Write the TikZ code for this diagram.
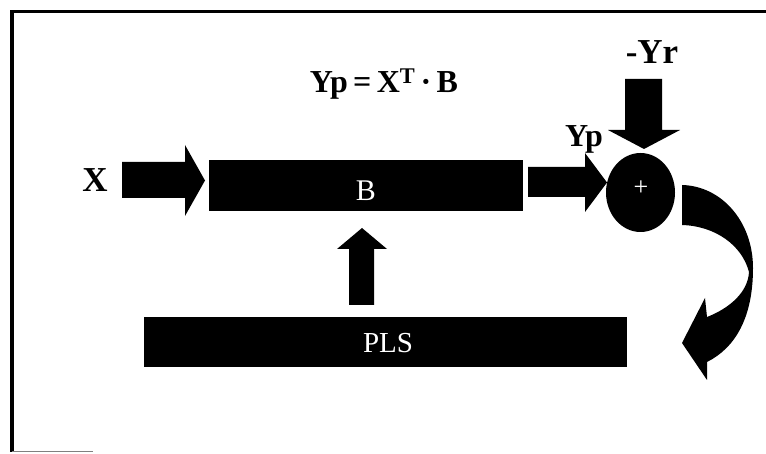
\documentclass[tikz,border=0pt]{standalone}
\usepackage{fontspec}
\setmainfont{Liberation Serif}
\usetikzlibrary{shapes.geometric}
\tikzset{
  blk/.style={fill=black, draw=none},
  bigbox/.style={fill=black, draw=none, inner sep=0pt, rectangle},
  boxtext/.style={text=white, inner sep=0pt, font=\fontsize{29}{29}\selectfont},
  lbl/.style={inner sep=0pt, font=\bfseries\fontsize{35}{35}\selectfont},
  lblsmall/.style={inner sep=0pt, font=\bfseries\fontsize{32}{32}\selectfont},
}
\begin{document}
\begin{tikzpicture}[x=1pt, y=-1pt]
\useasboundingbox (0,0) rectangle (766,454);
% frame
\draw[line width=3.5pt] (12,452) -- (12,11.5) -- (766,11.5);
\draw[gray, line width=1.5pt] (12,451.5) -- (93,451.5);

% formula
\node[lblsmall, anchor=base] (formula) at (384,93) {Yp\,=\,X\textsuperscript{T}\,·\,B};

% input label
\node[lbl, anchor=base] (xin) at (95,192) {X};
% X arrow
\fill[blk] (122,162) -- (185,162) -- (185,145) -- (205,180.5) -- (185,216) -- (185,198) -- (122,198) -- cycle;

% B box
\node[bigbox, minimum width=314pt, minimum height=51pt] (B) at (366,185.5) {};
\node[boxtext, anchor=base, font=\fontsize{30}{30}\selectfont] (Btext) at (366,200.5) {B};

% PLS box
\node[bigbox, minimum width=483pt, minimum height=50pt] (PLS) at (385.5,342) {};
\node[boxtext, anchor=base] (PLStext) at (388,352.5) {PLS};

% up arrow PLS -> B
\fill[blk] (349,305) -- (349,249) -- (337,249) -- (362,228) -- (387,249) -- (374,249) -- (374,305) -- cycle;

% Yp arrow
\fill[blk] (528,167) -- (585,167) -- (585,153) -- (607,182.5) -- (585,212) -- (585,197) -- (528,197) -- cycle;
\node[lblsmall, anchor=base] (yp) at (584,147) {Yp};

% summing junction
\node[ellipse, fill=black, minimum width=69pt, minimum height=79pt, inner sep=0pt] (sum) at (640.5,192.5) {};
\node[text=white, inner sep=0pt, font=\fontsize{26}{26}\selectfont] (plus) at (641,188) {+};

% -Yr arrow
\node[lbl, anchor=base] (yr) at (652,64) {-Yr};
\fill[blk] (625,79) -- (662,79) -- (662,130) -- (680,130) -- (644,149) -- (608,130) -- (625,130) -- cycle;

% curved feedback arrow
\fill[blk] (682,185) .. controls (722,186) and (753,222) .. (753,268)
  .. controls (753,318) and (735,348) .. (707,362)
  -- (707,380) -- (682,343) -- (705,298) -- (707,317)
  .. controls (730,308) and (748,292) .. (749,272)
  .. controls (742,245) and (715,226) .. (682,225) -- cycle;
\end{tikzpicture}
\end{document}
